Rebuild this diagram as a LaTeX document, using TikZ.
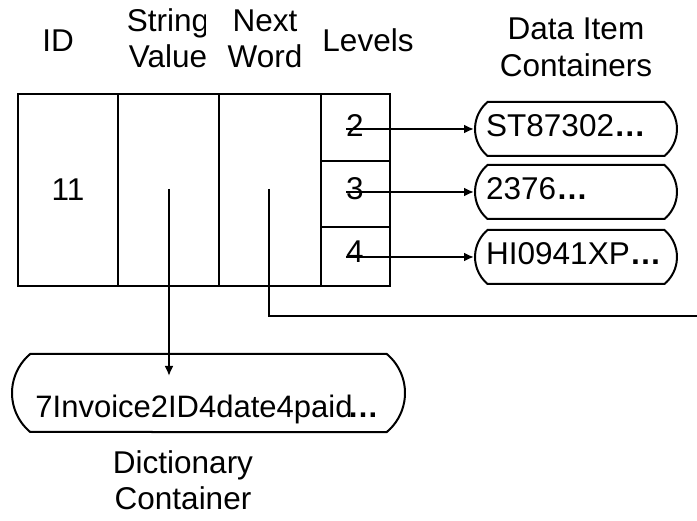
\documentclass[tikz,border=0pt]{standalone}
\usepackage{fontspec}
\setmainfont{Liberation Sans}
\usetikzlibrary{arrows.meta,shapes.misc}
\begin{document}
\begin{tikzpicture}[x=1pt,y=-1pt,
  lbl/.style={inner sep=0pt, anchor=base, font=\fontsize{31.5}{36}\selectfont},
  lblw/.style={inner sep=0pt, anchor=base west, font=\fontsize{31.5}{36}\selectfont},
  ln/.style={line width=2pt},
  cell/.style={draw, line width=2pt, inner sep=0pt},
  arr/.style={line width=2pt, -{Latex[length=10pt,width=9pt]}},
  cont/.style={draw, line width=2pt, rounded rectangle, rounded rectangle arc length=100,
               minimum width=202pt, minimum height=54pt, inner sep=0pt},
  ]
\useasboundingbox (0,0) rectangle (697,521);

% headers
\begin{scope}
  \clip (0,0) rectangle (205.5,90);
  \node[lbl] (hs1) at (168,32) {String};
  \node[lbl] (hs2) at (168,68) {Value};
\end{scope}
\node[lbl] (hid) at (58,52) {ID};
\node[lbl] (hn1) at (265,32) {Next};
\node[lbl] (hn2) at (265,68) {Word};
\node[lbl] (hlv) at (368,52) {Levels};
\node[lbl] (hd1) at (576,40) {Data Item};
\node[lbl] (hd2) at (576,77) {Containers};

% table
\node[cell, minimum width=100pt, minimum height=192pt] (idc) at (68,190) {};
\node[cell, minimum width=101pt, minimum height=192pt] (svc) at (168.5,190) {};
\node[cell, minimum width=102pt, minimum height=192pt] (nwc) at (270,190) {};
\node[cell, minimum width=69pt, minimum height=67pt] (l2c) at (355.5,127.5) {};
\node[cell, minimum width=69pt, minimum height=66pt] (l3c) at (355.5,194) {};
\node[cell, minimum width=69pt, minimum height=59pt] (l4c) at (355.5,256.5) {};

\node[lbl] (idt) at (68,201) {11};
\node[lbl] (l2) at (355,137) {2};
\node[lbl] (l3) at (355,200) {3};
\node[lbl] (l4) at (355,263) {4};

% data item containers
\node[cont] (c1) at (576,129) {};
\node[cont] (c2) at (576,192) {};
\node[cont] (c3) at (576,257) {};
\node[lblw] (t1) at (486,137) {ST87302\textbf{…}};
\node[lblw] (t2) at (486,200) {2376\textbf{…}};
\node[lblw] (t3) at (486,265) {HI0941XP\textbf{…}};

\draw[arr] (l2.west |- c1.west) -- (c1.west);
\draw[arr] (l3.west |- c2.west) -- (c2.west);
\draw[arr] (l4.west |- c3.west) -- (c3.west);

% dictionary container
\node[cont, minimum width=393pt, minimum height=78pt] (dict) at (208.5,393) {};
\node[lbl, font=\fontsize{31}{36}\selectfont] (dt) at (207,418) {7Invoice2ID4date4paid\kern-5pt\textbf{…}};
\node[lbl] (hdc1) at (183,474) {Dictionary};
\node[lbl] (hdc2) at (183,510) {Container};

% pointers
\coordinate (svs) at (169,189);
\coordinate (dtip) at (169,376);
\draw[arr] (svs) -- (dtip);

\coordinate (nws) at (269,189);
\coordinate (nwe) at (697,316);
\draw[ln] (nws) |- (nwe);
\end{tikzpicture}
\end{document}
